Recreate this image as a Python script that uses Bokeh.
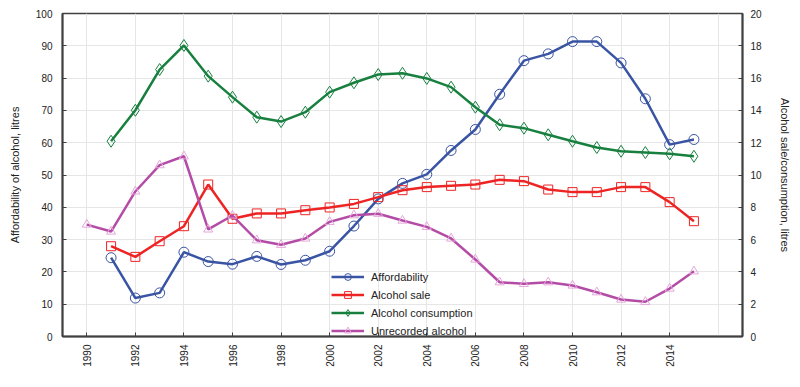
from bokeh.plotting import figure
from bokeh.models import Range1d, LinearAxis, FixedTicker, Legend, LegendItem
from bokeh.embed import file_html
from bokeh.resources import INLINE

years_a = list(range(1991, 2016))
affordability = [24.4, 11.9, 13.5, 26.1, 23.2, 22.4, 24.8, 22.3, 23.6, 26.4, 34.2, 42.6,
                 47.4, 50.2, 57.6, 64.1, 75.0, 85.4, 87.5, 91.3, 91.3, 84.7, 73.6, 59.4, 61.0]
alcohol_sale = [5.59, 4.93, 5.90, 6.83, 9.41, 7.29, 7.62, 7.62, 7.82, 7.99, 8.21, 8.63,
                9.06, 9.25, 9.33, 9.41, 9.70, 9.62, 9.10, 8.94, 8.94, 9.25, 9.25, 8.32, 7.14]
alcohol_consumption = [12.09, 14.01, 16.53, 18.02, 16.12, 14.82, 13.58, 13.31, 13.89, 15.13, 15.71, 16.22,
                       16.30, 15.98, 15.44, 14.20, 13.11, 12.90, 12.49, 12.09, 11.70, 11.47, 11.39, 11.31, 11.16]
years_u = list(range(1990, 2016))
unrecorded = [6.93, 6.50, 8.98, 10.61, 11.16, 6.63, 7.49, 5.96, 5.68, 6.07, 7.10, 7.51, 7.60,
              7.18, 6.79, 6.07, 4.77, 3.36, 3.26, 3.36, 3.16, 2.74, 2.29, 2.15, 2.97, 4.04]
x_ticks = list(range(1990, 2015, 2))
x_grid = list(range(1990, 2017, 2))
left_ticks = list(range(0, 101, 10))
right_ticks = list(range(0, 21, 2))

FONT = "Liberation Sans"
AX = "#404040"
GRID = "#e6e6e6"

p = figure(width=796, height=378, output_backend="svg", toolbar_location=None,
           x_range=Range1d(1989, 2017), y_range=Range1d(0, 100),
           min_border_left=62, min_border_right=54, min_border_top=13, min_border_bottom=42)
p.extra_y_ranges = {"right": Range1d(0, 20)}
p.outline_line_color = AX
p.outline_line_width = 1.5

p.xgrid.ticker = FixedTicker(ticks=x_grid)
p.ygrid.ticker = FixedTicker(ticks=left_ticks)
for g in (p.xgrid, p.ygrid):
    g.grid_line_color = GRID
    g.grid_line_width = 1

def style_axis(ax, ticks):
    ax.ticker = FixedTicker(ticks=ticks)
    ax.axis_line_color = AX
    ax.axis_line_width = 2
    ax.major_tick_in = 4
    ax.major_tick_out = 0
    ax.major_tick_line_color = AX
    ax.minor_tick_line_color = None
    ax.major_label_text_font = FONT
    ax.major_label_text_font_size = "10px"
    ax.major_label_text_color = "#222222"
    ax.axis_label_text_font = FONT
    ax.axis_label_text_font_size = "11px"
    ax.axis_label_text_font_style = "normal"
    ax.axis_label_text_color = "#222222"

style_axis(p.xaxis[0], x_ticks)
p.xaxis[0].major_label_orientation = 1.5708
p.xaxis[0].major_label_standoff = 8

style_axis(p.yaxis[0], left_ticks)
p.yaxis[0].axis_label = "Affordability of alcohol, litres"
p.yaxis[0].major_label_standoff = 10
p.yaxis[0].axis_label_standoff = 12

right = LinearAxis(y_range_name="right")
style_axis(right, right_ticks)
right.axis_label = "Alcohol sale/consumption, litres"
right.major_label_standoff = 8
right.axis_label_standoff = 14
p.add_layout(right, "right")

BLUE = "#3a54a4"
RED = "#ee2424"
GREEN = "#17803f"
MAG = "#b44ca6"
PINK = "#e6a6dc"
LW = 2.5

r1l = p.line(years_a, affordability, line_color=BLUE, line_width=LW)
r1m = p.scatter(years_a, affordability, marker="circle", size=10, fill_color=None,
                line_color=BLUE, line_width=1)
r2l = p.line(years_a, alcohol_sale, line_color=RED, line_width=LW, y_range_name="right")
r2m = p.scatter(years_a, alcohol_sale, marker="square", size=9, fill_color=None,
                line_color=RED, line_width=1, y_range_name="right")
r3l = p.line(years_a, alcohol_consumption, line_color=GREEN, line_width=LW, y_range_name="right")
r3m = p.scatter(years_a, alcohol_consumption, marker="diamond", size=12, fill_color=None,
                line_color=GREEN, line_width=1, y_range_name="right")
r4l = p.line(years_u, unrecorded, line_color=MAG, line_width=LW, y_range_name="right")
r4m = p.scatter(years_u, unrecorded, marker="triangle", size=9, fill_color=None,
                line_color=PINK, line_width=1, y_range_name="right")

legend = Legend(items=[
    LegendItem(label="Affordability", renderers=[r1l, r1m]),
    LegendItem(label="Alcohol sale", renderers=[r2l, r2m]),
    LegendItem(label="Alcohol consumption", renderers=[r3l, r3m]),
    LegendItem(label="Unrecorded alcohol", renderers=[r4l, r4m]),
], location=(269, -3))
legend.background_fill_alpha = 0
legend.border_line_alpha = 0
legend.padding = 0
legend.margin = 0
legend.spacing = 1
legend.label_height = 17
legend.glyph_height = 17
legend.glyph_width = 33
legend.label_standoff = 7
legend.label_text_font = FONT
legend.label_text_font_size = "11px"
legend.label_text_color = "#222222"
p.add_layout(legend, "center")

open("out.html", "w").write(file_html(p, INLINE))
